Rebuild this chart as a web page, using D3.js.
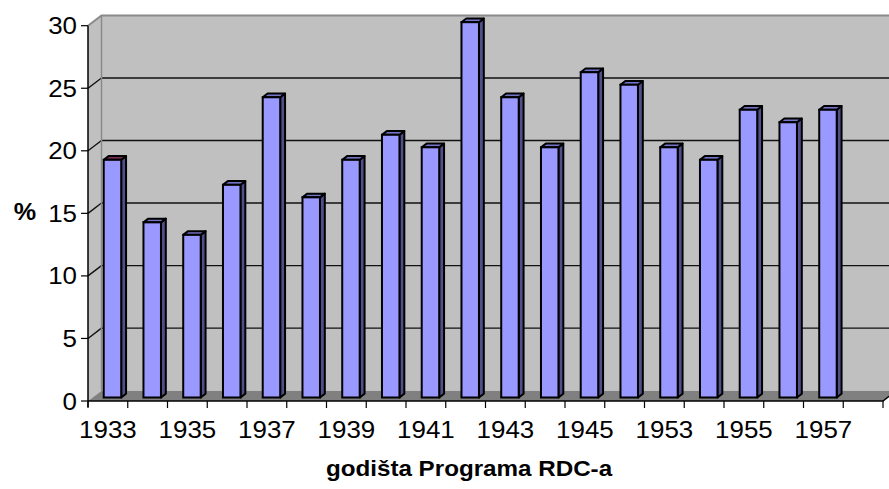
<!DOCTYPE html>
<html>
<head>
<meta charset="utf-8">
<script src="https://cdn.jsdelivr.net/npm/d3@7"></script>
<style>
  body { margin: 0; background: #fff; }
  text { font-family: "Liberation Sans", Arial, sans-serif; fill: #000; }
</style>
</head>
<body>
<div id="chart"></div>
<script>
// data
var years = ["1933","1934","1935","1936","1937","1938","1939","1940","1941","1942",
             "1943","1944","1945","1946","1953","1954","1955","1956","1957","1958"];
var values = [19, 14, 13, 17, 24, 16, 19, 21, 20, 30, 24, 20, 26, 25, 20, 19, 23, 22, 23, null];
var yTicks = [0, 5, 10, 15, 20, 25, 30];
var xLabels = ["1933","1935","1937","1939","1941","1943","1945","1953","1955","1957"];

var width = 889, height = 489;
var svg = d3.select("#chart").append("svg")
    .attr("width", width)
    .attr("height", height);

// front plane scales
var x = d3.scaleBand().domain(years).range([88, 883]).padding(0);
var y = d3.scaleLinear().domain([0, 30]).range([401, 25.7]);
var bw = x.bandwidth();

// depth offset (0 = front, 1 = back wall)
var DX = 13.5, DY = -10.3;
function ox(d) { return DX * d; }
function oy(d) { return DY * d; }

var left = x.range()[0], right = x.range()[1];

// side wall
svg.append("polygon")
    .attr("points", [[left, y(30)], [left + DX, y(30) + DY], [left + DX, y(0) + DY], [left, y(0)]].join(" "))
    .attr("fill", "#c0c0c0");
// back wall
svg.append("rect")
    .attr("x", left + DX).attr("y", y(30) + DY)
    .attr("width", width - left - DX + 20).attr("height", y(0) - y(30))
    .attr("fill", "#c0c0c0");
// floor
svg.append("polygon")
    .attr("points", [[left, y(0)], [left + DX, y(0) + DY], [right + DX, y(0) + DY], [right, y(0)]].join(" "))
    .attr("fill", "#808080");

// gridlines on back wall + side wall
var grid = svg.append("g");
yTicks.filter(function(v) { return v > 0 && v < 30; }).forEach(function(v) {
  grid.append("line")
      .attr("x1", left + DX).attr("x2", width + 10)
      .attr("y1", y(v) + DY).attr("y2", y(v) + DY)
      .attr("stroke", "#111").attr("stroke-width", 1.4);
  grid.append("line")
      .attr("x1", left).attr("x2", left + DX)
      .attr("y1", y(v)).attr("y2", y(v) + DY)
      .attr("stroke", "#111").attr("stroke-width", 1.4);
});
// wall edges
svg.append("path")
    .attr("d", "M" + left + "," + y(30) + "L" + (left + DX) + "," + (y(30) + DY) + "L" + (width + 10) + "," + (y(30) + DY))
    .attr("fill", "none").attr("stroke", "#8a8a8a").attr("stroke-width", 2);
svg.append("line")
    .attr("x1", left + DX).attr("x2", left + DX)
    .attr("y1", y(30) + DY).attr("y2", y(0) + DY)
    .attr("stroke", "#8a8a8a").attr("stroke-width", 1.5);

// bars
var d1 = 0.34, d2 = 0.70;
var bx = function(c) { return x(c) + bw * 0.28 + ox(d1); };
var bwid = bw * 0.44;
var sdx = ox(d2) - ox(d1), sdy = oy(d2) - oy(d1);

var data = years.map(function(c, i) { return { year: c, value: values[i], i: i }; })
    .filter(function(d) { return d.value != null; });

var bars = svg.append("g").selectAll("g.bar")
    .data(data)
    .enter().append("g")
    .attr("class", "bar");

bars.append("polygon") // side
    .attr("points", function(d) {
      var x1 = bx(d.year) + bwid, yt = y(d.value) + oy(d1), yb = y(0) + oy(d1);
      return [[x1, yt], [x1 + sdx, yt + sdy], [x1 + sdx, yb + sdy], [x1, yb]].join(" ");
    })
    .attr("fill", "#4f4f8a").attr("stroke", "#000").attr("stroke-width", 2).attr("stroke-linejoin", "round");
bars.append("polygon") // top
    .attr("points", function(d) {
      var x0 = bx(d.year), yt = y(d.value) + oy(d1);
      return [[x0, yt], [x0 + sdx, yt + sdy], [x0 + bwid + sdx, yt + sdy], [x0 + bwid, yt]].join(" ");
    })
    .attr("fill", function(d) { return d.i === 0 ? "#7a2a5a" : "#7474c8"; })
    .attr("stroke", "#000").attr("stroke-width", 2).attr("stroke-linejoin", "round");
bars.append("rect") // front
    .attr("x", function(d) { return bx(d.year); })
    .attr("y", function(d) { return y(d.value) + oy(d1); })
    .attr("width", bwid)
    .attr("height", function(d) { return y(0) - y(d.value); })
    .attr("fill", "#9999ff").attr("stroke", "#000").attr("stroke-width", 2);

// y axis
var yAxis = svg.append("g");
yAxis.append("line")
    .attr("x1", left).attr("x2", left).attr("y1", y(30)).attr("y2", y(0) + 6)
    .attr("stroke", "#000").attr("stroke-width", 1.5);
yTicks.forEach(function(v) {
  yAxis.append("line")
      .attr("x1", left - 7).attr("x2", left).attr("y1", y(v)).attr("y2", y(v))
      .attr("stroke", "#000").attr("stroke-width", 1.2);
  yAxis.append("text")
      .attr("transform", "translate(" + (left - 11) + "," + (y(v) + 8.5) + ") scale(1.08,1)")
      .attr("text-anchor", "end")
      .style("font-size", "24px")
      .text(v);
});

// x axis
var xAxis = svg.append("g");
xAxis.append("path")
    .attr("d", "M" + left + "," + y(0) + "L" + right + "," + y(0) + "L" + (right + DX * 0.45) + "," + (y(0) + DY * 0.45))
    .attr("fill", "none").attr("stroke", "#000").attr("stroke-width", 1.5);
years.concat([null]).forEach(function(c, i) {
  var tx = c ? x(c) : right;
  xAxis.append("line")
      .attr("x1", tx).attr("x2", tx).attr("y1", y(0)).attr("y2", y(0) + 7)
      .attr("stroke", "#000").attr("stroke-width", 1.2);
});
xLabels.forEach(function(c) {
  xAxis.append("text")
      .attr("transform", "translate(" + (x(c) + bw / 2) + "," + (y(0) + 37) + ") scale(1.08,1)")
      .attr("text-anchor", "middle")
      .style("font-size", "24px")
      .text(c);
});

// axis titles
svg.append("text")
    .attr("transform", "translate(25,220) scale(1.05,1)")
    .attr("text-anchor", "middle")
    .style("font-size", "24px").style("font-weight", "bold")
    .text("%");
svg.append("text")
    .attr("transform", "translate(469,476) scale(1.1,1)")
    .attr("text-anchor", "middle")
    .style("font-size", "22px").style("font-weight", "bold")
    .text("godišta Programa RDC-a");
</script>
</body>
</html>
